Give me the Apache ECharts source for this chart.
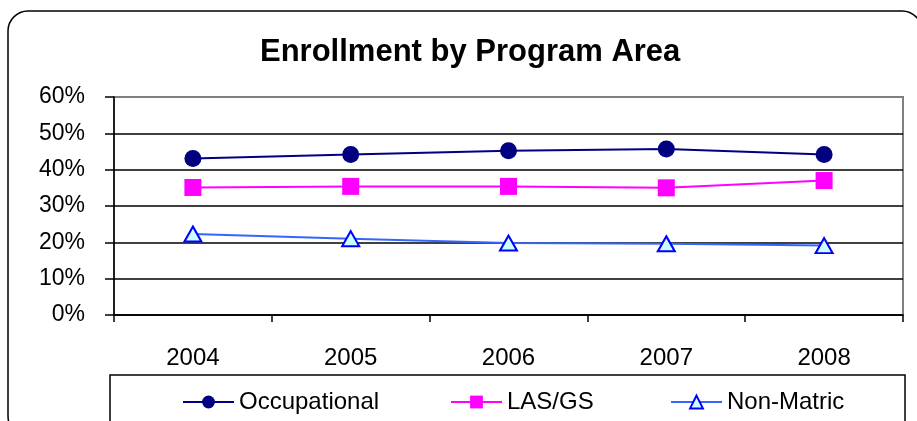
<!DOCTYPE html>
<html><head><meta charset="utf-8">
<script src="https://cdn.jsdelivr.net/npm/echarts@6/dist/echarts.min.js"></script>
<style>html,body{margin:0;padding:0;background:#fff}#c{width:917px;height:421px}</style>
</head><body><div id="c"></div>
<script>
const categories = ['2004', '2005', '2006', '2007', '2008'];
const occupational = [43.1, 44.2, 45.2, 45.7, 44.2];
const lasGs = [35.1, 35.4, 35.4, 35.0, 37.0];
const nonMatric = [22.3, 21.0, 19.8, 19.6, 19.1];
const seriesNames = ['Occupational', 'LAS/GS', 'Non-Matric'];
const yMin = 0, yMax = 60, yStep = 10;

const FONT = '"Liberation Sans", Arial, sans-serif';
const chart = echarts.init(document.getElementById('c'), null, {renderer: 'canvas'});

const legendCommon = {
  orient: 'horizontal', padding: 0, itemGap: 0, itemWidth: 51, itemHeight: 16,
  selectedMode: false, top: 390,
  textStyle: {fontSize: 24, color: '#000', fontFamily: FONT}
};

chart.setOption({
  animation: false,
  backgroundColor: '#fff',
  title: {
    text: 'Enrollment by Program Area', left: 260, top: 37, padding: 0,
    textStyle: {fontSize: 31, fontWeight: 'bold', color: '#000', fontFamily: FONT}
  },
  grid: {
    left: 114, top: 97, width: 789, height: 218, containLabel: false, outerBoundsMode: 'none',
    show: true, borderColor: '#808080', borderWidth: 2, backgroundColor: 'transparent'
  },
  legend: [
    Object.assign({data: [seriesNames[0]], left: 182}, legendCommon),
    Object.assign({data: [seriesNames[1]], left: 450}, legendCommon),
    Object.assign({data: [seriesNames[2]], left: 670}, legendCommon)
  ],
  graphic: [
    {type: 'rect', z: -10, silent: true, shape: {x: 8, y: 11, width: 914, height: 425, r: 20},
     style: {fill: 'transparent', stroke: '#000', lineWidth: 1.5}},
    {type: 'rect', z: -10, silent: true, shape: {x: 110, y: 375, width: 795, height: 60},
     style: {fill: 'transparent', stroke: '#000', lineWidth: 1.5}}
  ],
  xAxis: {
    type: 'category', data: categories, boundaryGap: true,
    axisLine: {show: true, lineStyle: {color: '#000', width: 1.5}},
    axisTick: {show: true, length: 7, lineStyle: {color: '#000', width: 1.5}},
    axisLabel: {margin: 31, fontSize: 24, color: '#000', fontFamily: FONT},
    splitLine: {show: false}
  },
  yAxis: {
    type: 'value', min: yMin, max: yMax, interval: yStep,
    axisLine: {show: true, lineStyle: {color: '#000', width: 1.5}},
    axisTick: {show: true, length: 9, lineStyle: {color: '#000', width: 1.5}},
    axisLabel: {formatter: '{value}%', margin: 29, fontSize: 23, color: '#000', fontFamily: FONT, padding: [11, 0, 0, 0]},
    splitLine: {show: true, showMaxLine: false, lineStyle: {color: '#000', width: 1.5}}
  },
  series: [
    {name: seriesNames[0], type: 'line', data: occupational, symbol: 'circle', symbolSize: 17,
     lineStyle: {color: '#000080', width: 2}, itemStyle: {color: '#000080'},
     emphasis: {disabled: true}, z: 4},
    {name: seriesNames[1], type: 'line', data: lasGs, symbol: 'rect', symbolSize: 17,
     lineStyle: {color: '#FF00FF', width: 2}, itemStyle: {color: '#FF00FF'},
     emphasis: {disabled: true}, z: 3},
    {name: seriesNames[2], type: 'line', data: nonMatric, symbol: 'triangle', symbolSize: [17, 15],
     lineStyle: {color: '#3366FF', width: 2}, itemStyle: {color: '#CCFFFF', borderColor: '#0000FF', borderWidth: 2},
     emphasis: {disabled: true}, z: 2}
  ]
});
</script></body></html>
